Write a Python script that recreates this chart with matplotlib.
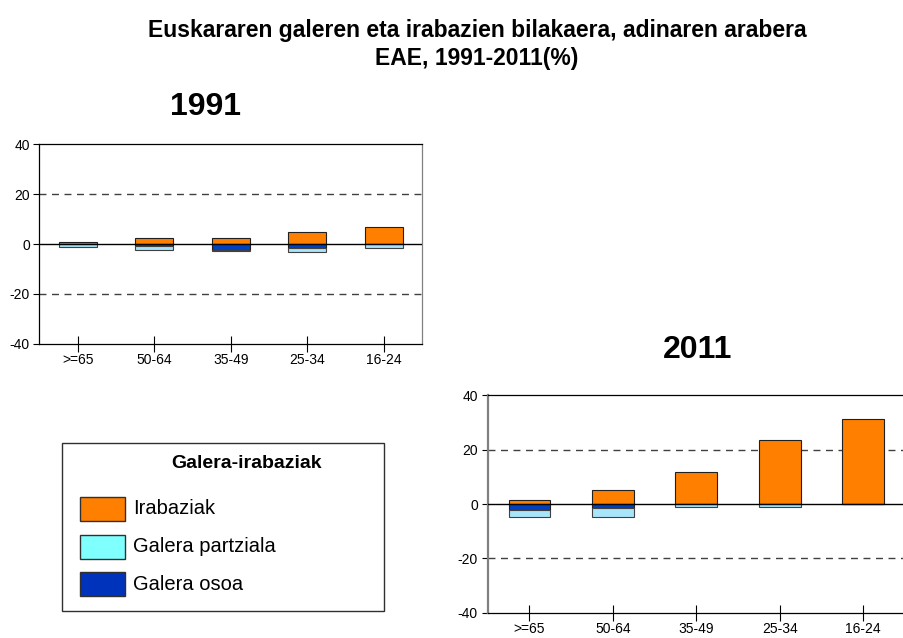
import numpy as np
import matplotlib
matplotlib.use('Agg')
import matplotlib.pyplot as plt
from matplotlib.patches import Rectangle

plt.rcParams['font.family'] = ['Liberation Sans', 'DejaVu Sans']
plt.rcParams['axes.unicode_minus'] = False

# data (percent)
ages = ['>=65', '50-64', '35-49', '25-34', '16-24']
gain_1991 = [0.7, 2.3, 2.5, 4.7, 6.7]
total_loss_1991 = [0.2, 0.7, 2.3, 1.5, 0.0]
partial_loss_1991 = [1.1, 1.7, 0.4, 1.7, 1.7]
gain_2011 = [1.4, 5.0, 11.7, 23.7, 31.2]
total_loss_2011 = [2.2, 1.5, 0.0, 0.0, 0.0]
partial_loss_2011 = [2.6, 3.3, 1.2, 1.0, 0.0]

legend_title = 'Galera-irabaziak'
legend_labels = ['Irabaziak', 'Galera partziala', 'Galera osoa']
c_gain = '#FF8000'
c_partial = '#A8E4FA'
c_total = '#0040C0'
legend_colors = [c_gain, '#80FFFF', '#0033BB']

W, H = 904, 638
fig = plt.figure(figsize=(W / 100, H / 100), dpi=100)


def box(l, t, r, b):
    return [l / W, 1 - b / H, (r - l) / W, (b - t) / H]


def draw_panel(ax, gain, total, partial):
    x = np.arange(len(ages))
    gain = np.array(gain)
    total = np.array(total)
    partial = np.array(partial)
    for y in (-20, 20):
        ax.axhline(y, color='#404040', lw=1, ls=(0, (5, 4)), zorder=1)
    ax.bar(x, gain, 0.5, bottom=0, color=c_gain, edgecolor='#202020', lw=0.8, zorder=2)
    ax.bar(x, -total, 0.5, bottom=0, color=c_total, edgecolor='#202020', lw=0.8, zorder=2)
    ax.bar(x, -partial, 0.5, bottom=-total, color=c_partial, edgecolor='#404040', lw=0.8, zorder=2)
    ax.axhline(0, color='black', lw=1, zorder=3)
    ax.set_xlim(-0.5, len(ages) - 0.5)
    ax.set_ylim(-40, 40)
    ax.set_yticks([-40, -20, 0, 20, 40])
    ax.set_xticks(x)
    ax.set_xticklabels(ages)
    ax.tick_params(axis='y', direction='out', length=4, width=0.8, labelsize=10, pad=3)
    ax.tick_params(axis='x', direction='inout', length=11, width=0.8, labelsize=10, pad=1.5)
    for s in ax.spines.values():
        s.set_linewidth(0.9)


ax1 = fig.add_axes(box(39.5, 144.3, 422, 343.7))
draw_panel(ax1, gain_1991, total_loss_1991, partial_loss_1991)
ax1.spines['right'].set_color('#808080')

ax2 = fig.add_axes(box(487.7, 395.3, 905, 612.7))
draw_panel(ax2, gain_2011, total_loss_2011, partial_loss_2011)
ax2.spines['left'].set_color('#808080')
ax2.spines['left'].set_linewidth(1.6)
ax2.spines['right'].set_visible(False)

# titles
fig.text(477 / W, 1 - 30 / H, 'Euskararen galeren eta irabazien bilakaera, adinaren arabera',
         ha='center', va='center', fontsize=16.5, fontweight='bold')
fig.text(477 / W, 1 - 58 / H, 'EAE, 1991-2011(%)',
         ha='center', va='center', fontsize=16.5, fontweight='bold')
fig.text(206 / W, 1 - 107 / H, '1991', ha='center', va='center', fontsize=23, fontweight='bold')
fig.text(698 / W, 1 - 350 / H, '2011', ha='center', va='center', fontsize=23, fontweight='bold')

# legend box
fig.patches.append(Rectangle((62 / W, 1 - 611 / H), 322 / W, 168 / H, transform=fig.transFigure,
                             facecolor='white', edgecolor='#303030', lw=1))
fig.text(247 / W, 1 - 464 / H, legend_title, ha='center', va='center', fontsize=14, fontweight='bold')
for i, (lab, col) in enumerate(zip(legend_labels, legend_colors)):
    yc = 509 + i * 37.5
    fig.patches.append(Rectangle((80 / W, 1 - (yc + 12) / H), 45 / W, 24 / H, transform=fig.transFigure,
                                 facecolor=col, edgecolor='#303030', lw=1))
    fig.text(133 / W, 1 - yc / H, lab, ha='left', va='center', fontsize=14.5)

fig.savefig('out.png', dpi=100)
